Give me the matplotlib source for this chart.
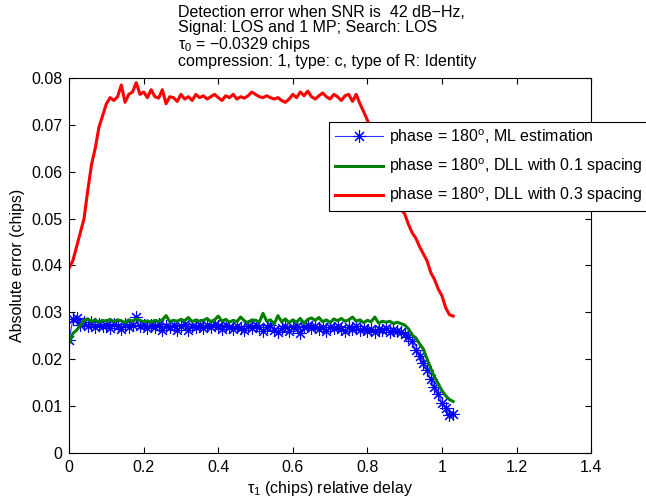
import numpy as np
import matplotlib.pyplot as plt

plt.rcParams['font.family'] = ['Liberation Sans', 'DejaVu Sans']
plt.rcParams['mathtext.fontset'] = 'custom'
plt.rcParams['mathtext.rm'] = 'Liberation Sans'
plt.rcParams['mathtext.it'] = 'Liberation Sans'
plt.rcParams['font.size'] = 11.5

# Relative delay of the multipath (chips), one sample every 0.01
tau1 = np.round(np.arange(0, 1.035, 0.01), 2)

# ML estimation error
err_ml = [
    0.0241, 0.0285, 0.0288, 0.0274, 0.0280, 0.0271, 0.0279, 0.0268, 0.0276, 0.0270,
    0.0273, 0.0267, 0.0275, 0.0270, 0.0265, 0.0276, 0.0269, 0.0272, 0.0290, 0.0270,
    0.0274, 0.0266, 0.0272, 0.0269, 0.0275, 0.0262, 0.0271, 0.0268, 0.0274, 0.0263,
    0.0270, 0.0275, 0.0262, 0.0271, 0.0268, 0.0273, 0.0266, 0.0272, 0.0269, 0.0275,
    0.0270, 0.0264, 0.0272, 0.0268, 0.0265, 0.0271, 0.0267, 0.0262, 0.0270, 0.0266,
    0.0272, 0.0268, 0.0260, 0.0269, 0.0272, 0.0263, 0.0258, 0.0266, 0.0270, 0.0260,
    0.0268, 0.0271, 0.0256, 0.0268, 0.0272, 0.0266, 0.0270, 0.0264, 0.0268, 0.0260,
    0.0269, 0.0266, 0.0271, 0.0264, 0.0261, 0.0268, 0.0265, 0.0270, 0.0263, 0.0266,
    0.0261, 0.0264, 0.0258, 0.0265, 0.0262, 0.0266, 0.0259, 0.0263, 0.0260, 0.0258,
    0.0254, 0.0248, 0.0238, 0.0220, 0.0207, 0.0193, 0.0177, 0.0158, 0.0140, 0.0125,
    0.0107, 0.0095, 0.0081, 0.0083,
]

# DLL error, 0.1 chip correlator spacing
err_dll01 = [
    0.0235, 0.0255, 0.0262, 0.0272, 0.0283, 0.0286, 0.0280, 0.0284, 0.0279, 0.0283,
    0.0281, 0.0285, 0.0280, 0.0284, 0.0282, 0.0278, 0.0284, 0.0281, 0.0286, 0.0283,
    0.0280, 0.0282, 0.0279, 0.0283, 0.0281, 0.0284, 0.0293, 0.0280, 0.0283, 0.0281,
    0.0285, 0.0282, 0.0289, 0.0280, 0.0284, 0.0281, 0.0283, 0.0287, 0.0280, 0.0284,
    0.0292, 0.0281, 0.0285, 0.0279, 0.0283, 0.0280, 0.0290, 0.0282, 0.0278, 0.0284,
    0.0283, 0.0279, 0.0298, 0.0281, 0.0284, 0.0275, 0.0293, 0.0280, 0.0286, 0.0278,
    0.0284, 0.0279, 0.0287, 0.0276, 0.0285, 0.0288, 0.0283, 0.0289, 0.0280, 0.0284,
    0.0278, 0.0286, 0.0282, 0.0287, 0.0281, 0.0284, 0.0290, 0.0281, 0.0284, 0.0278,
    0.0283, 0.0280, 0.0290, 0.0277, 0.0281, 0.0279, 0.0281, 0.0276, 0.0279, 0.0276,
    0.0273, 0.0265, 0.0252, 0.0245, 0.0233, 0.0222, 0.0201, 0.0180, 0.0162, 0.0148,
    0.0133, 0.0122, 0.0114, 0.0110,
]

# DLL error, 0.3 chip correlator spacing
err_dll03 = [
    0.0395, 0.0410, 0.0440, 0.0470, 0.0500, 0.0560, 0.0615, 0.0650, 0.0695, 0.0720,
    0.0745, 0.0758, 0.0752, 0.0760, 0.0785, 0.0748, 0.0765, 0.0770, 0.0790, 0.0765,
    0.0770, 0.0758, 0.0775, 0.0760, 0.0757, 0.0775, 0.0745, 0.0760, 0.0758, 0.0750,
    0.0765, 0.0755, 0.0760, 0.0752, 0.0765, 0.0758, 0.0762, 0.0755, 0.0760, 0.0765,
    0.0758, 0.0752, 0.0762, 0.0758, 0.0765, 0.0755, 0.0760, 0.0757, 0.0762, 0.0770,
    0.0765, 0.0760, 0.0758, 0.0762, 0.0758, 0.0755, 0.0758, 0.0752, 0.0748, 0.0755,
    0.0765, 0.0758, 0.0770, 0.0762, 0.0772, 0.0760, 0.0755, 0.0762, 0.0768, 0.0760,
    0.0755, 0.0765, 0.0760, 0.0752, 0.0762, 0.0765, 0.0750, 0.0765, 0.0745, 0.0728,
    0.0710, 0.0692, 0.0670, 0.0650, 0.0628, 0.0605, 0.0585, 0.0562, 0.0540, 0.0520,
    0.0510, 0.0488, 0.0470, 0.0458, 0.0440, 0.0425, 0.0410, 0.0385, 0.0370, 0.0350,
    0.0335, 0.0310, 0.0295, 0.0292,
]

labels = [
    'phase = 180$^{o}$, ML estimation',
    'phase = 180$^{o}$, DLL with 0.1 spacing',
    'phase = 180$^{o}$, DLL with 0.3 spacing',
]

fig = plt.figure(figsize=(6.46, 5.03), dpi=100)
ax = fig.add_axes([0.107, 0.0994, 0.808, 0.7456])

# asterisk marker: plus and cross overlaid
ax.plot(tau1, err_ml, color='#3030ff', lw=0.8, marker=(8, 2, 0), ms=9,
        mec='#0000ff', mfc='#0000ff', mew=0.8, label=labels[0])
ax.plot(tau1, err_dll01, color='#008000', lw=2.2, label=labels[1])
ax.plot(tau1, err_dll03, color='#ff0000', lw=2.2, label=labels[2])

ax.set_xlim(0, 1.4)
ax.set_ylim(0, 0.08)
ax.set_xticks(np.arange(0, 1.41, 0.2))
ax.set_xticklabels(['0', '0.2', '0.4', '0.6', '0.8', '1', '1.2', '1.4'])
ax.set_yticks(np.arange(0, 0.081, 0.01))
ax.set_yticklabels(['0', '0.01', '0.02', '0.03', '0.04', '0.05', '0.06', '0.07', '0.08'])
ax.tick_params(direction='in', top=True, right=True, length=4, width=0.8, pad=5)
for s in ax.spines.values():
    s.set_linewidth(0.8)

ax.set_xlabel(r'$\tau_1$ (chips) relative delay', labelpad=3)
ax.set_ylabel('Absolute error (chips)', labelpad=4)

title = ('Detection error when SNR is  42 dB\u2212Hz,\n'
         'Signal: LOS and 1 MP; Search: LOS\n'
         r'$\tau_0$ = ' + '\u22120.0329 chips\n'
         'compression: 1, type: c, type of R: Identity')
fig.text(178 / 646, 1 - 5 / 503, title, ha='left', va='top', linespacing=1.0)

leg = ax.legend(loc='upper left', bbox_to_anchor=(0.498, 0.883), borderaxespad=0,
                fancybox=False, edgecolor='k', framealpha=1, handlelength=3.0,
                labelspacing=0.6, borderpad=0.35, handletextpad=0.4)
leg.get_frame().set_linewidth(0.8)

fig.savefig('out.png', dpi=100)
